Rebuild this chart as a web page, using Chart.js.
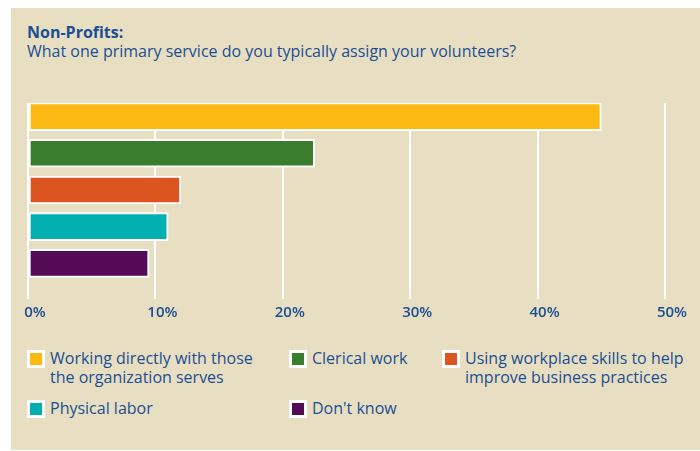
<!DOCTYPE html>
<html>
<head>
<meta charset="utf-8">
<script src="https://cdn.jsdelivr.net/npm/chart.js@4.4.1/dist/chart.umd.min.js"></script>
<style>
  html, body { margin: 0; padding: 0; background: #ffffff; }
  body { width: 700px; height: 451px; position: relative; overflow: hidden; font-family: "Open Sans", sans-serif; color: #1c4e94; }
  .panel { position: absolute; left: 11px; top: 8px; width: 689px; height: 442px; background: #e8dfc2; }
  .title { position: absolute; left: 27px; top: 23px; font-size: 16px; line-height: 19px; }
  .title b { font-weight: 700; }
  #chartBox { position: absolute; left: 11px; top: 80px; width: 689px; height: 257px; }
  .item { position: absolute; display: flex; align-items: flex-start; font-size: 16px; line-height: 19px; }
  .sw { width: 12px; height: 12px; border: 3px solid #ffffff; margin-top: 1px; margin-right: 5px; flex: none; }
</style>
</head>
<body>
<div class="panel"></div>
<div class="title"><b>Non-Profits:</b><br>What one primary service do you typically assign your volunteers?</div>
<div id="chartBox"><canvas id="chart"></canvas></div>
<div id="legend"></div>

<script>
// Respuestas (porcentaje de organizaciones)
const categories = [
  ['Working directly with those', 'the organization serves'],
  ['Clerical work'],
  ['Using workplace skills to help', 'improve business practices'],
  ['Physical labor'],
  ["Don't know"]
];
const values = [45, 22.5, 12, 11, 9.5];
const colors = ['#fdb913', '#3a7d2c', '#dc5420', '#00b0b0', '#540a55'];
const tickValues = [0, 10, 20, 30, 40, 50];

// Leyenda en HTML (3 columnas, 2 filas)
const legendSlots = [
  { left: 27, top: 349 },
  { left: 289, top: 349 },
  { left: 442, top: 349 },
  { left: 27, top: 399 },
  { left: 289, top: 399 }
];
const legend = document.getElementById('legend');
categories.forEach((lines, i) => {
  const item = document.createElement('div');
  item.className = 'item';
  item.style.left = legendSlots[i].left + 'px';
  item.style.top = legendSlots[i].top + 'px';
  const sw = document.createElement('span');
  sw.className = 'sw';
  sw.style.background = colors[i];
  const txt = document.createElement('span');
  txt.innerHTML = lines.join('<br>');
  item.appendChild(sw);
  item.appendChild(txt);
  legend.appendChild(item);
});

const ctx = document.getElementById('chart');
new Chart(ctx, {
  type: 'bar',
  data: {
    datasets: [{
      data: values.map((v, i) => ({ x: v, y: i })),
      backgroundColor: colors,
      borderColor: '#ffffff',
      borderWidth: 2,
      borderSkipped: false,
      barThickness: 28
    }]
  },
  options: {
    indexAxis: 'y',
    responsive: true,
    maintainAspectRatio: false,
    animation: false,
    layout: { padding: { left: 17, right: 35, top: 23, bottom: 10 } },
    plugins: {
      legend: { display: false },
      tooltip: { enabled: false }
    },
    scales: {
      // eje de categorías como lineal para dejar hueco bajo la última barra
      y: {
        type: 'linear',
        display: false,
        reverse: true,
        offset: false,
        grid: { offset: false },
        min: -0.37,
        max: 4.97
      },
      x: {
        type: 'linear',
        min: 0,
        max: 50,
        afterFit: (scale) => { scale.paddingLeft = 0; scale.paddingRight = 0; },
        afterBuildTicks: (scale) => { scale.ticks = tickValues.map(v => ({ value: v })); },
        border: { display: false },
        grid: { color: '#ffffff', lineWidth: 2, drawTicks: false },
        ticks: {
          padding: 5,
          labelOffset: 7,
          color: '#1c4e94',
          font: { family: 'Open Sans, sans-serif', size: 15, weight: '600' },
          callback: (v) => v + '%'
        }
      }
    }
  }
});
</script>
</body>
</html>
